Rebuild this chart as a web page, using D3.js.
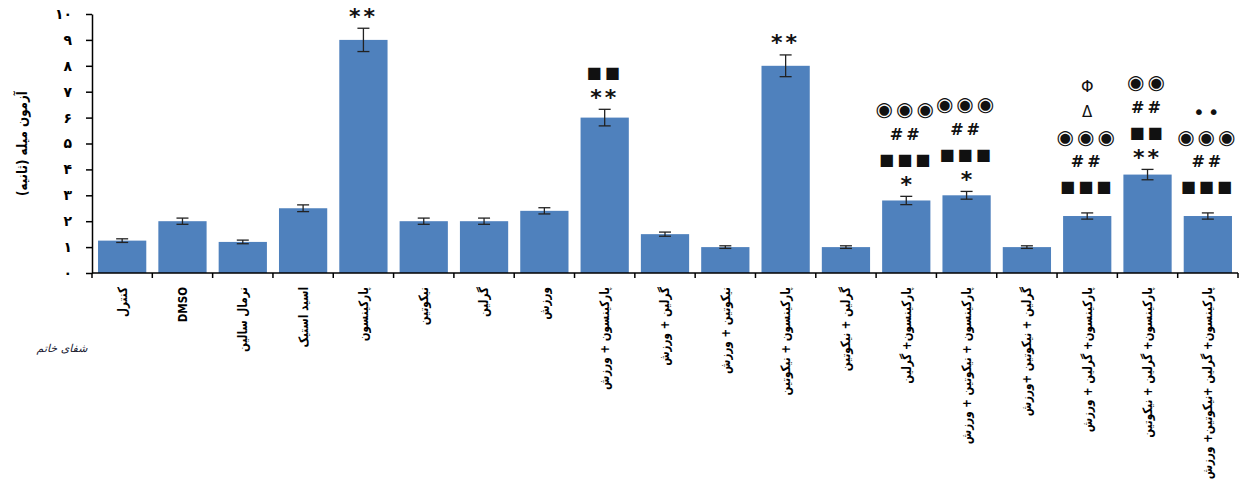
<!DOCTYPE html>
<html>
<head>
<meta charset="utf-8">
<script src="https://cdn.jsdelivr.net/npm/d3@7"></script>
<style>
  body { margin: 0; background: #fff; }
  svg text { font-family: "DejaVu Sans", sans-serif; }
</style>
</head>
<body>
<div id="chart-area"></div>
<script>
// groups, in order along the x axis
const categories = [
    "کنترل", "DMSO", "نرمال سالین", "اسید استیک", "پارکینسون",
    "نیکوتین", "گرلین", "ورزش", "پارکینسون + ورزش", "گرلین + ورزش",
    "نیکوتین + ورزش", "پارکینسون + نیکوتین", "گرلین + نیکوتین", "پارکینسون+ گرلین",
    "پارکینسون + نیکوتین + ورزش", "گرلین + نیکوتین +ورزش", "پارکینسون+ گرلین + ورزش",
    "پارکینسون+ گرلین + نیکوتین", "پارکینسون+ گرلین +نیکوتین+ ورزش"
];
// rod test time (seconds), mean
const means = [1.25, 2.0, 1.2, 2.5, 9.0, 2.0, 2.0, 2.4, 6.0, 1.5, 1.0, 8.0, 1.0, 2.8, 3.0, 1.0, 2.2, 3.8, 2.2];
// standard error
const errors = [0.07, 0.12, 0.07, 0.13, 0.45, 0.12, 0.12, 0.12, 0.32, 0.08, 0.05, 0.42, 0.05, 0.16, 0.15, 0.05, 0.12, 0.2, 0.12];
// significance marks, listed from the bar upwards
const marks = [
    [], [], [], [], ["**"],
    [], [], [], ["**", "■■"], [],
    [], ["**"], [], ["*", "■■■", "##", "◉◉◉"],
    ["*", "■■■", "##", "◉◉◉"], [], ["■■■", "##", "◉◉◉", "Δ", "Φ"],
    ["**", "■■", "##", "◉◉"], ["■■■", "##", "◉◉◉", "••"]
];
const yTicks = [0, 1, 2, 3, 4, 5, 6, 7, 8, 9, 10];
const yTitle = "آزمون میله (ثانیه)";

const persianDigits = "۰۱۲۳۴۵۶۷۸۹";
const toPersian = (n) => String(n).replace(/\d/g, (c) => persianDigits[+c]);

const w = 1255;
const h = 479;
const plotLeft = 92, plotRight = 1238, plotTop = 14, plotBottom = 273;

const svg = d3.select("#chart-area")
    .append("svg")
    .attr("width", w)
    .attr("height", h);

const xScale = d3.scaleBand()
    .domain(categories)
    .range([plotLeft, plotRight])
    .paddingInner(0.2)
    .paddingOuter(0.1);

const yScale = d3.scaleLinear()
    .domain([0, 10])
    .range([plotBottom, plotTop]);

// bars
svg.selectAll("rect.bar")
    .data(means)
    .enter()
    .append("rect")
    .attr("class", "bar")
    .attr("x", (d, i) => xScale(categories[i]))
    .attr("y", (d) => yScale(d))
    .attr("width", xScale.bandwidth())
    .attr("height", (d) => plotBottom - yScale(d))
    .attr("fill", "#4f81bd");

// error bars
const errG = svg.append("g").attr("stroke", "#222").attr("stroke-width", 1.3);
means.forEach((m, i) => {
    const cx = xScale(categories[i]) + xScale.bandwidth() / 2;
    const y1 = yScale(m + errors[i]);
    const y2 = yScale(m - errors[i]);
    errG.append("line").attr("x1", cx).attr("x2", cx).attr("y1", y1).attr("y2", y2);
    errG.append("line").attr("x1", cx - 6).attr("x2", cx + 6).attr("y1", y1).attr("y2", y1);
    errG.append("line").attr("x1", cx - 6).attr("x2", cx + 6).attr("y1", y2).attr("y2", y2);
});

// significance marks
const markSize = { "**": 22, "*": 22, "■■": 16, "■■■": 16, "##": 16, "◉◉": 20, "◉◉◉": 20, "Δ": 15, "Φ": 16, "••": 20 };
marks.forEach((list, i) => {
    if (!list.length) return;
    const cx = xScale(categories[i]) + xScale.bandwidth() / 2;
    const base = yScale(means[i] + errors[i]);
    let y = base - (list[0][0] === "*" ? 12 : 26);
    list.forEach((s) => {
        svg.append("text")
            .attr("x", cx)
            .attr("y", y)
            .attr("text-anchor", "middle")
            .attr("dominant-baseline", "central")
            .attr("font-size", markSize[s])
            .attr("font-weight", (s === "##" || s[0] === "*") ? "bold" : "normal")
            .attr("letter-spacing", s.length > 1 ? 3 : 0)
            .attr("fill", "#111")
            .text(s);
        y -= 25;
    });
});

// x axis: line with ticks at the group boundaries
const xAxisG = svg.append("g").attr("stroke", "#000");
xAxisG.append("line")
    .attr("x1", plotLeft).attr("x2", plotRight)
    .attr("y1", plotBottom).attr("y2", plotBottom)
    .attr("stroke-width", 1.5);
d3.range(categories.length + 1).forEach((i) => {
    const x = plotLeft + i * xScale.step();
    xAxisG.append("line")
        .attr("x1", x).attr("x2", x)
        .attr("y1", plotBottom).attr("y2", plotBottom + 5)
        .attr("stroke-width", 1.5);
});

// x labels, rotated and a little condensed
svg.selectAll("text.xlab")
    .data(categories)
    .enter()
    .append("text")
    .attr("class", "xlab")
    .attr("transform", (d) => "translate(" + (xScale(d) + xScale.bandwidth() / 2) + "," + (plotBottom + 14) + ") rotate(-90) scale(0.8,1)")
    .attr("text-anchor", "end")
    .attr("dominant-baseline", "central")
    .attr("font-size", 13)
    .attr("font-weight", "bold")
    .attr("font-family", (d) => d === "DMSO" ? "Liberation Sans Narrow, Liberation Sans, sans-serif" : "DejaVu Sans, sans-serif")
    .attr("fill", "#000")
    .text((d) => d);

// y axis
const yAxis = d3.axisLeft(yScale)
    .tickValues(yTicks)
    .tickSize(6)
    .tickSizeOuter(0)
    .tickFormat(toPersian);

const yAxisG = svg.append("g")
    .attr("transform", "translate(" + plotLeft + ",0)")
    .call(yAxis);
yAxisG.select(".domain").attr("stroke-width", 1.5);
yAxisG.selectAll(".tick line").attr("stroke-width", 1.5);
yAxisG.selectAll(".tick text")
    .attr("x", -20)
    .attr("font-size", 14)
    .attr("font-weight", "bold")
    .attr("font-family", "DejaVu Sans, sans-serif");

// y title
svg.append("text")
    .attr("transform", "translate(22," + ((plotTop + plotBottom) / 2) + ") rotate(-90) scale(0.85,1)")
    .attr("text-anchor", "middle")
    .attr("dominant-baseline", "central")
    .attr("font-size", 14)
    .attr("font-weight", "bold")
    .text(yTitle);

// journal mark
svg.append("text")
    .attr("x", 62)
    .attr("y", 352)
    .attr("text-anchor", "middle")
    .attr("font-size", 11)
    .attr("font-style", "italic")
    .attr("fill", "#223")
    .text("شفای خاتم");
</script>
</body>
</html>
